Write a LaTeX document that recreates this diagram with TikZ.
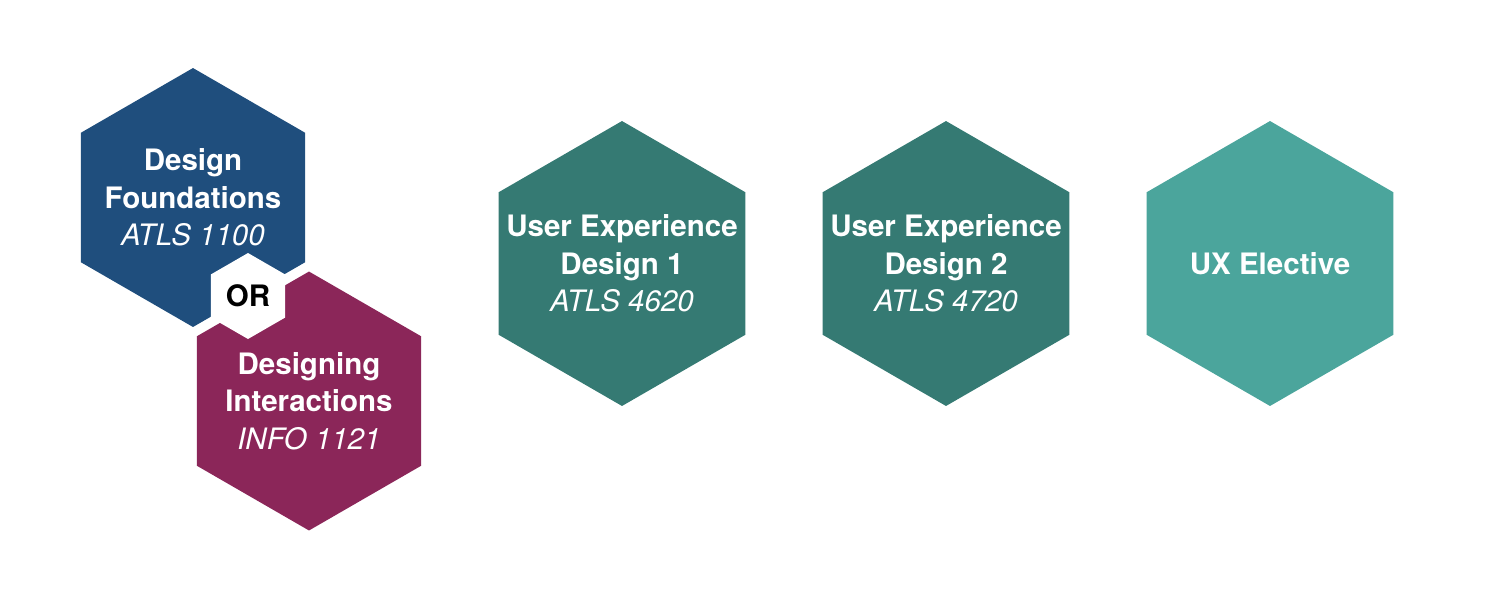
\documentclass[tikz,border=0pt]{standalone}
\usepackage{fontspec}
\setmainfont{TeX Gyre Heros}
\usetikzlibrary{shapes.geometric}

\definecolor{fndblue}{HTML}{1F4E7D}
\definecolor{dsgnplum}{HTML}{8B2659}
\definecolor{uxteal}{HTML}{357A73}
\definecolor{electeal}{HTML}{4BA59C}

\tikzset{
  hexa/.style={regular polygon, regular polygon sides=6, shape border rotate=30, minimum size=#1, inner sep=0pt, draw=none},
  course/.style={text=white, align=center, font=\bfseries\fontsize{16.8}{21.3}\selectfont},
}
\newcommand{\coursecode}[1]{{\mdseries\itshape #1}}

\begin{document}
\begin{tikzpicture}[x=0.02cm,y=-0.02cm]
\useasboundingbox (0,0) rectangle (1500,593);
% first year, either one
\node[hexa=5.18cm, fill=fndblue] (fnd) at (193,197.5) {};
\node[hexa=5.18cm, fill=dsgnplum] (dsgn) at (309,401) {};
\node[hexa=1.72cm, fill=white] (or) at (248,296) {};
\node[course] (fndtxt) at (fnd.center) {Design\\Foundations\\\coursecode{ATLS 1100}};
\node[course] (dsgntxt) at (dsgn.center) {Designing\\Interactions\\\coursecode{INFO 1121}};
\node[course, text=black] (ortxt) at (or.center) {OR};
% the ux track
\node[hexa=5.7cm, fill=uxteal] (uxa) at (622,263.5) {};
\node[hexa=5.7cm, fill=uxteal] (uxb) at (946,263.5) {};
\node[hexa=5.7cm, fill=electeal] (elec) at (1270,263.5) {};
\node[course] (uxatxt) at (uxa.center) {User Experience\\Design 1\\\coursecode{ATLS 4620}};
\node[course] (uxbtxt) at (uxb.center) {User Experience\\Design 2\\\coursecode{ATLS 4720}};
\node[course] (electxt) at (elec.center) {UX Elective};
\end{tikzpicture}
\end{document}
